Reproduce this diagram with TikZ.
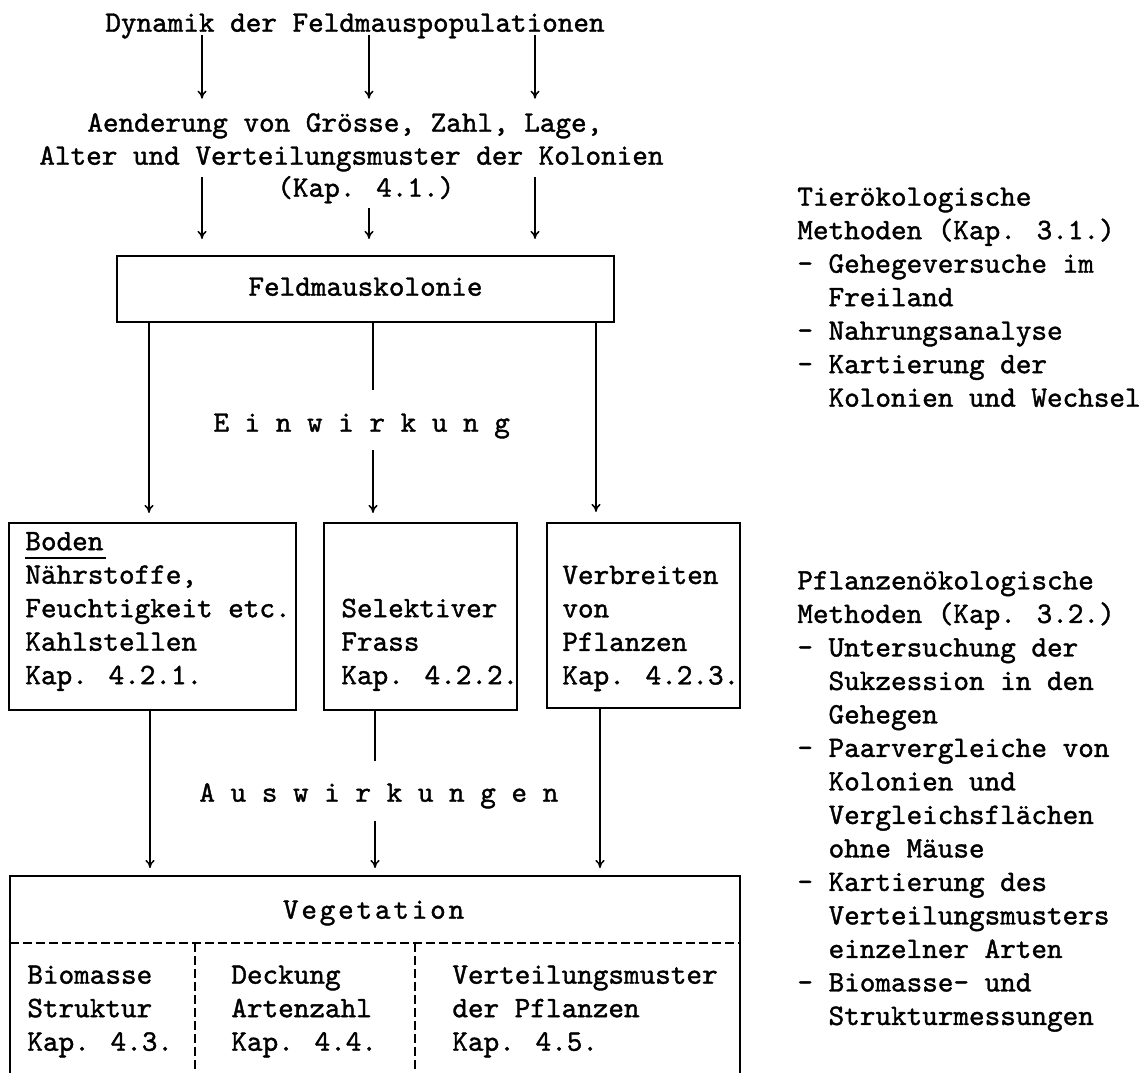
\documentclass[tikz,border=0pt]{standalone}
\usepackage{fontspec}
\usetikzlibrary{arrows.meta,calc}
\newfontfamily\dgtt{lmmono10-regular.otf}[FakeBold=1.3]
\newcommand\dgfont{\fontsize{14.86pt}{16.75pt}\selectfont\dgtt\lineskiplimit=-10pt\relax}
\ExplSyntaxOn
\NewDocumentCommand\lspaced{m m}{\tl_map_inline:nn {#2} {##1\kern#1\relax}}
\ExplSyntaxOff
\tikzset{
  txt/.style={inner sep=0pt, font=\dgfont, align=left},
  boxed/.style={draw, line width=1.1pt, inner sep=0pt},
  con/.style={line width=0.75pt},
  arr/.style={con, -{To[length=4pt,width=4.5pt]}},
  dsh/.style={line width=0.75pt, dash pattern=on 4.5pt off 2pt},
}
\begin{document}
\begin{tikzpicture}[x=0.5pt,y=-0.5pt]
\fill[white] (0,0) rectangle (1147,1073);
\useasboundingbox (0,0) rectangle (1147,1073);

% column coordinates for the connectors
\coordinate (t1) at (202,0);
\coordinate (t2) at (369,0);
\coordinate (t3) at (535,0);
\coordinate (k1) at (149,0);
\coordinate (k2) at (373,0);
\coordinate (k3) at (596,0);
\coordinate (b1) at (150,0);
\coordinate (b2) at (375,0);
\coordinate (b3) at (600,0);
\coordinate (vd) at (0,943);
\coordinate (vx1) at (195,0);
\coordinate (vx2) at (415,0);

% texts at the top
\node[txt, anchor=center] (title) at (355,25) {\strut Dynamik der Feldmauspopulationen};
\node[txt, anchor=west] (chg1) at (87,125) {\strut Aenderung von Grösse, Zahl, Lage,};
\node[txt, anchor=west] (chg2) at (39,158) {\strut Alter und Verteilungsmuster der Kolonien};
\node[txt, anchor=west] (chg3) at (277,190) {\strut (Kap. 4.1.)};

% Feldmauskolonie
\node[boxed, font=\dgfont, minimum width=248.5pt, minimum height=33pt] (kol) at (365.5,289) {\strut Feldmauskolonie};

\node[txt, anchor=west] (ein) at (213,425) {\strut E i n w i r k u n g};

% three boxes
\node[boxed, minimum width=143.5pt, minimum height=93.5pt] (bodenbox) at (152.5,616.5) {};
\node[boxed, minimum width=96.5pt, minimum height=93.5pt] (selbox) at (420.5,616.5) {};
\node[boxed, minimum width=96.5pt, minimum height=92.5pt] (verbbox) at (643.5,615.5) {};

\node[txt, anchor=west] (bodtxt) at (25,610.5) {\strut\rlap{\rule[-4.3pt]{40.5pt}{0.7pt}}Boden\\
\strut Nährstoffe,\\
\strut Feuchtigkeit etc.\\
\strut Kahlstellen\\
\strut Kap. 4.2.1.};
\node[txt, anchor=west] (seltxt) at (341,644) {\strut Selektiver\\
\strut Frass\\
\strut Kap. 4.2.2.};
\node[txt, anchor=west] (verbtxt) at (562,627.5) {\strut Verbreiten\\
\strut von\\
\strut Pflanzen\\
\strut Kap. 4.2.3.};

\node[txt, anchor=west] (aus) at (199,795) {\strut A u s w i r k u n g e n};

% Vegetation box (open at the bottom edge of the picture)
\node[inner sep=0pt, outer sep=0pt, minimum width=365pt, minimum height=98.5pt] (veg) at (375,974.5) {};
\draw[line width=1.1pt] (veg.south west) -- (veg.north west) -- (veg.north east) -- (veg.south east);
\node[txt, anchor=center] (veglab) at (375,912) {\strut\lspaced{1.4pt}{Vegetation}};
\draw[dsh] (veg.west |- vd) -- (veg.east |- vd);
\draw[dsh] (vx1 |- vd) -- (vx1 |- veg.south);
\draw[dsh] (vx2 |- vd) -- (vx2 |- veg.south);

\node[txt, anchor=west] (bio) at (27,1010.5) {\strut Biomasse\\
\strut Struktur\\
\strut Kap. 4.3.};
\node[txt, anchor=west] (deck) at (231,1010.5) {\strut Deckung\\
\strut Artenzahl\\
\strut Kap. 4.4.};
\node[txt, anchor=west] (vert) at (452,1010.5) {\strut Verteilungsmuster\\
\strut der Pflanzen\\
\strut Kap. 4.5.};

% right column
\node[txt, anchor=west] (tier) at (797,299.5) {\strut Tierökologische\\
\strut Methoden (Kap. 3.1.)\\
\strut - Gehegeversuche im\\
\strut\hspace*{1.05em}Freiland\\
\strut - Nahrungsanalyse\\
\strut - Kartierung der\\
\strut\hspace*{1.05em}Kolonien und Wechsel};
\node[txt, anchor=west] (pfl) at (797,800.5) {\strut Pflanzenökologische\\
\strut Methoden (Kap. 3.2.)\\
\strut - Untersuchung der\\
\strut\hspace*{1.05em}Sukzession in den\\
\strut\hspace*{1.05em}Gehegen\\
\strut - Paarvergleiche von\\
\strut\hspace*{1.05em}Kolonien und\\
\strut\hspace*{1.05em}Vergleichsflächen\\
\strut\hspace*{1.05em}ohne Mäuse\\
\strut - Kartierung des\\
\strut\hspace*{1.05em}Verteilungsmusters\\
\strut\hspace*{1.05em}einzelner Arten\\
\strut - Biomasse- und\\
\strut\hspace*{1.05em}Strukturmessungen};

% connectors
\foreach \c in {t1,t2,t3}
  \draw[arr] ([yshift=-1.65pt]\c |- title.base) -- ([yshift=4.6pt]\c |- chg1.north);
\draw[arr] ([yshift=-1.1pt]t1 |- chg2.south) -- ([yshift=8pt]t1 |- kol.north);
\draw[arr] ([yshift=-1.1pt]t3 |- chg2.south) -- ([yshift=8pt]t3 |- kol.north);
\draw[arr] ([yshift=-0.6pt]t2 |- chg3.south) -- ([yshift=8pt]t2 |- kol.north);

\draw[arr] (k1 |- kol.south) -- ([yshift=4.5pt]k1 |- bodenbox.north);
\draw[con] (k2 |- kol.south) -- ([yshift=9.1pt]k2 |- ein.north);
\draw[arr] ([yshift=-4pt]k2 |- ein.south) -- ([yshift=4.5pt]k2 |- selbox.north);
\draw[arr] (k3 |- kol.south) -- ([yshift=5pt]k3 |- verbbox.north);

\draw[arr] (b1 |- bodenbox.south) -- ([yshift=4pt]b1 |- veg.north);
\draw[con] (b2 |- selbox.south) -- ([yshift=8.6pt]b2 |- aus.north);
\draw[arr] ([yshift=-4.6pt]b2 |- aus.south) -- ([yshift=4pt]b2 |- veg.north);
\draw[arr] (b3 |- verbbox.south) -- ([yshift=4pt]b3 |- veg.north);
\end{tikzpicture}
\end{document}
